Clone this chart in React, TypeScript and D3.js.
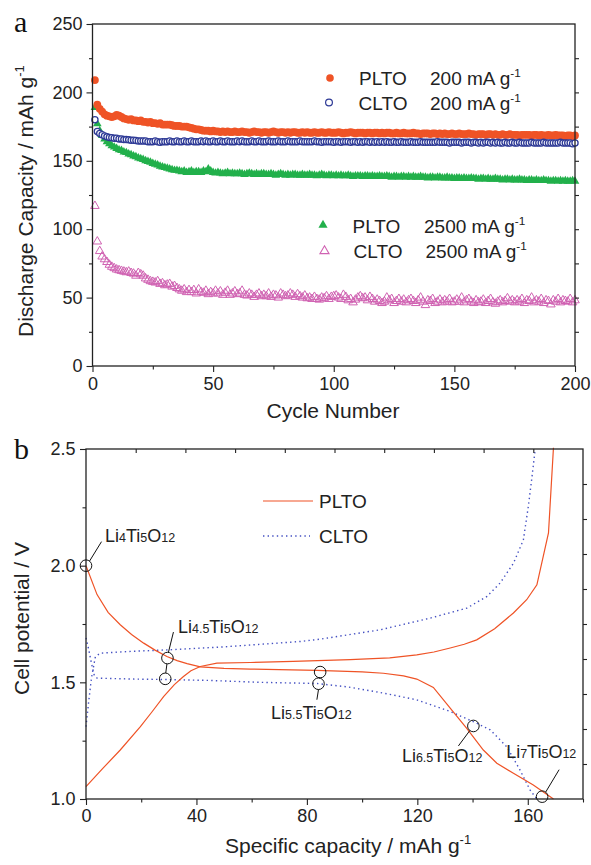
import React, { useEffect, useRef } from "react";
import * as d3 from "d3";

// ---- panel a: discharge capacity vs cycle number ----
const cycleNumbers = d3.range(1, 201);

const plto200 = [
  209, 191, 188, 186, 184, 183, 182.5, 182, 182.5, 183.5,
  183, 182, 181, 180.5, 180, 180.5, 179.5, 179.5, 179, 179.5,
  178.5, 178.5, 178, 178.5, 177.5, 177.5, 177, 177.5, 176.5, 176.5,
  176.5, 176.5, 176, 175.5, 175.5, 175.5, 175, 175, 175, 174.5,
  174, 173.5, 173, 173, 172.5, 172, 172, 172, 171.5, 172,
  171.5, 171.5, 171, 171.5, 171, 171.5, 171, 171, 171.5, 171,
  171, 171.5, 171, 171, 170.5, 171, 171.5, 171, 171, 170.5,
  171, 171, 170.5, 171, 171.5, 171, 170.5, 171, 171, 170.5,
  171, 170.5, 171, 171, 170.5, 170.5, 171, 170.5, 171, 170.5,
  170.5, 171, 170.5, 170.5, 171, 170.5, 170.5, 171, 170.5, 170.5,
  170.5, 171, 170.5, 170, 170.5, 170.5, 171, 170.5, 170, 170.5,
  170.5, 170.5, 170, 170.5, 170.5, 170, 170.5, 170.5, 170, 170.5,
  170, 170.5, 170.5, 170, 170, 170.5, 170, 170, 170.5, 170,
  170, 170, 170.5, 170, 170, 169.5, 170, 170, 170, 169.5,
  170, 170, 169.5, 170, 169.5, 170, 169.5, 169.5, 170, 169.5,
  169.5, 170, 169.5, 169.5, 169.5, 170, 169.5, 169.5, 169, 169.5,
  169.5, 169.5, 169, 169.5, 169.5, 169, 169.5, 169, 169, 169.5,
  169, 169, 169.5, 169, 169, 169, 168.5, 169, 169, 169,
  169, 168.5, 169, 169, 168.5, 169, 168.5, 168.5, 169, 168.5,
  168.5, 169, 168.5, 168.5, 168.5, 168, 168.5, 168.5, 168, 168.5,
];

const clto200 = [
  180, 171.5, 170, 169, 168.2, 167.5, 167, 166.8, 166.5, 166.5,
  166, 166, 165.5, 165.5, 165.3, 165, 165, 164.8, 164.5, 164.5,
  164.5, 164.5, 164, 164, 164, 164.5, 164, 163.5, 164, 164,
  164, 164.5, 164, 164, 164.5, 164, 164, 164.5, 164, 164,
  164.5, 164, 164, 164, 164.5, 164, 164.5, 164, 164, 164.5,
  164, 164, 164.5, 164, 164, 164.5, 164, 164, 164, 164.5,
  164, 164.5, 164, 164, 164, 164.5, 164, 164, 164.5, 164,
  164, 164, 164.5, 164, 164, 164, 164.5, 164, 164, 164,
  164.5, 164, 164, 164, 164, 164.5, 164, 164, 164, 164,
  164, 164.5, 164, 164, 163.5, 164, 164, 164, 164, 163.5,
  164, 164, 163.5, 164, 164, 164, 163.5, 164, 164, 163.5,
  164, 163.5, 164, 164, 163.5, 164, 163.5, 164, 163.5, 164,
  163.5, 164, 163.5, 163.5, 164, 163.5, 163.5, 164, 163.5, 163.5,
  163.5, 164, 163.5, 163.5, 163.5, 164, 163.5, 163.5, 163.5, 163.5,
  163.5, 163.5, 164, 163.5, 163.5, 163.5, 163.5, 163, 163.5, 163.5,
  163.5, 163.5, 163, 163.5, 163.5, 163.5, 163, 163.5, 163.5, 163,
  163.5, 163, 163.5, 163.5, 163, 163.5, 163, 163.5, 163, 163,
  163.5, 163, 163, 163.5, 163, 163, 163.5, 163, 163, 163,
  163, 163.5, 163, 163, 163, 163, 163.5, 163, 163, 163,
  163, 163, 163, 163.5, 163, 163, 163, 163, 162.5, 163,
];

const plto2500 = [
  189, 177, 172, 168.5, 166, 164, 162.5, 161, 160, 159,
  158, 157.5, 156.5, 156, 155, 154.5, 153.5, 153, 152, 151.5,
  151, 150, 149.5, 149, 148, 147.5, 147, 146, 145.5, 145,
  144.5, 144, 143.5, 143, 143, 142.5, 142, 142.5, 141.5, 142,
  142.5, 141.5, 142, 142, 141.5, 142.5, 142, 144, 142.5, 141.5,
  141, 141.5, 141, 140.5, 141, 141.5, 140.5, 141, 140.5, 140.5,
  141, 140.5, 140, 140.5, 141, 140.5, 140, 140.5, 140, 140.5,
  140.5, 140, 140, 140.5, 140, 139.5, 140, 140.5, 140, 139.5,
  140, 139.5, 140, 140, 139.5, 139.5, 140, 139.5, 139.5, 140,
  139.5, 139.5, 139, 139.5, 140, 139.5, 139, 139.5, 139.5, 139,
  139.5, 139, 139.5, 139, 139, 139.5, 139, 138.5, 139, 139,
  139, 138.5, 139, 139, 138.5, 139, 138.5, 138.5, 139, 138.5,
  138.5, 139, 138.5, 138, 138.5, 138.5, 138, 138.5, 138.5, 138,
  138.5, 138, 138.5, 138, 138, 138.5, 138, 138, 137.5, 138,
  138, 137.5, 138, 138, 137.5, 137.5, 138, 137.5, 137.5, 137,
  137.5, 137.5, 137, 137.5, 137, 137, 137.5, 137, 137, 136.5,
  137, 137, 136.5, 137, 136.5, 136.5, 137, 136.5, 136.5, 136,
  136.5, 136.5, 136, 136.5, 136, 136, 136.5, 136, 136, 135.5,
  136, 136, 135.5, 136, 135.5, 135.5, 136, 135.5, 135.5, 135,
  135.5, 135.5, 135, 135.5, 135, 135.5, 135, 135, 135.5, 135,
];

const clto2500 = [
  117, 91, 84, 80, 78, 76, 74, 72.5, 71.5, 70.5,
  70, 69.5, 69, 68.5, 69, 68, 67.5, 66, 68, 67,
  66, 64, 63, 62, 61.5, 61, 62, 60, 60.5, 59,
  59.5, 60, 58, 58.5, 57, 56, 55, 56, 54, 55.5,
  54, 55.5, 53, 56, 54, 53.5, 55, 52.5, 54, 53,
  55, 53, 54.5, 52, 53.5, 55, 52, 53, 54.5, 52.5,
  53, 55, 52, 51.5, 53, 52, 50.5, 52, 53, 51,
  52, 51, 53, 50.5, 52, 51.5, 50, 53, 52, 51,
  51.5, 53, 52, 50.5, 52.5, 51, 50, 51.5, 49.5, 50,
  49, 50.5, 49, 48.5, 50, 49.5, 51, 49, 50.5, 51,
  51.5, 50, 49, 52, 50.5, 48, 49, 46.5, 48.5, 50,
  51, 49.5, 50, 48, 50.5, 49, 47, 48.5, 47.5, 46,
  47, 50, 48, 49, 46, 47.5, 49, 47, 48.5, 46.5,
  48, 49, 47.5, 46, 48, 50, 47, 44.5, 48, 47.5,
  49, 46, 47, 48.5, 46.5, 48, 47, 49, 46.5, 47,
  48.5, 47, 50, 46.5, 48, 49, 47, 46, 48, 46.5,
  47, 48.5, 46, 47.5, 49, 46.5, 45.5, 47, 48, 46.5,
  47.5, 49.5, 47, 48, 46.5, 48, 47, 49, 46, 48,
  47.5, 50, 46.5, 48, 47, 49, 46, 48, 47.5, 45,
  48, 47, 49, 46.5, 48, 47.5, 47, 49, 46.5, 48,
];

const capTicks = [0, 50, 100, 150, 200, 250];
const cycleTicks = [0, 50, 100, 150, 200];

// ---- panel b: voltage profiles, [capacity, voltage] ----
const pltoDischarge: [number, number][] = [
  [0, 2.0], [4, 1.876], [8, 1.8], [12.4, 1.747], [16.5, 1.705], [20.9, 1.668],
  [25, 1.638], [29.3, 1.611], [33, 1.593], [36.6, 1.58], [41.4, 1.566], [50, 1.56],
  [59.5, 1.557], [83.6, 1.551], [100, 1.545], [107.7, 1.539], [115, 1.528],
  [119.8, 1.514], [125.8, 1.478], [131.9, 1.389], [137.9, 1.303], [143.9, 1.21],
  [148.8, 1.153], [154.8, 1.11], [162, 1.06], [169.3, 1.0],
];
const pltoCharge: [number, number][] = [
  [0, 1.053], [6, 1.13], [12.4, 1.21], [19.7, 1.31], [24, 1.375], [28.1, 1.439],
  [32, 1.49], [35.3, 1.525], [38, 1.55], [41.4, 1.568], [47.4, 1.582], [59.5, 1.585],
  [75, 1.59], [95.7, 1.597], [110, 1.605], [119.8, 1.618], [126, 1.63], [131.9, 1.647],
  [137, 1.663], [141.5, 1.682], [148, 1.73], [154.8, 1.797], [159.6, 1.854],
  [163.3, 1.918], [167.5, 2.14], [169.3, 2.505],
];
const cltoDischarge: [number, number][] = [
  [0, 1.69], [1, 1.64], [2, 1.58], [3, 1.53], [4, 1.518], [17.2, 1.514], [29, 1.512],
  [45, 1.508], [63, 1.5], [83.6, 1.495], [95, 1.48], [107.7, 1.454], [119.8, 1.425],
  [131.9, 1.375], [141.5, 1.325], [146.4, 1.296], [152.4, 1.224], [157.2, 1.124],
  [160.8, 1.039], [163.3, 1.0],
];
const cltoCharge: [number, number][] = [
  [0, 1.31], [1, 1.42], [2, 1.52], [3.4, 1.61], [5.2, 1.625], [15, 1.632], [29.3, 1.639],
  [50, 1.652], [77.6, 1.675], [84.8, 1.685], [106.5, 1.725], [124.6, 1.775],
  [137.9, 1.818], [145.2, 1.868], [150, 1.926], [154.8, 2.01], [158.4, 2.11],
  [160.2, 2.254], [161.7, 2.398], [162.7, 2.5],
];

const voltTicks = [1.0, 1.5, 2.0, 2.5];
const specCapTicks = [0, 40, 80, 120, 160];

// composition markers: [capacity, voltage]
const markerPoints: [number, number][] = [
  [0, 2.0], [29.5, 1.604], [28.7, 1.515], [84.8, 1.544], [84.2, 1.494], [140.3, 1.313], [165.2, 1.01],
];
// label parts: [main, sub, main, sub, main, sub]
const phaseLabels = [
  ["Li", "4", "Ti", "5", "O", "12"],
  ["Li", "4.5", "Ti", "5", "O", "12"],
  ["Li", "5.5", "Ti", "5", "O", "12"],
  ["Li", "6.5", "Ti", "5", "O", "12"],
  ["Li", "7", "Ti", "5", "O", "12"],
];

const ORANGE = "#ef5326";
const BLUE = "#2e3a96";
const DOT_BLUE = "#4450c2";
const GREEN = "#22b04b";
const PINK = "#d062b2";
const INK = "#222";
const FONT = "'Liberation Sans', Arial, Helvetica, sans-serif";

type Sel = d3.Selection<SVGSVGElement, unknown, null, undefined>;

function supText(g: any, x: number, y: number, main: string, size: number, anchor = "start") {
  const t = g.append("text").attr("x", x).attr("y", y).attr("font-size", size)
    .attr("text-anchor", anchor).attr("fill", INK);
  t.append("tspan").text(main);
  t.append("tspan").attr("font-size", size * 0.62).attr("dy", -size * 0.42).text("-1");
  return t;
}

function drawTop(svg: Sel) {
  const x = d3.scaleLinear().domain([0, 200]).range([92.5, 575]);
  const y = d3.scaleLinear().domain([0, 250]).range([366, 24]);
  const g = svg.append("g").attr("font-family", FONT);

  // markers
  const tri = d3.symbol().type(d3.symbolTriangle);
  g.append("g").selectAll("path").data(plto2500).join("path")
    .attr("d", tri.size(32)())
    .attr("transform", (d, i) => `translate(${x(cycleNumbers[i])},${y(d)})`)
    .attr("fill", GREEN);
  g.append("g").selectAll("circle").data(plto200).join("circle")
    .attr("cx", (d, i) => x(cycleNumbers[i])).attr("cy", (d) => y(d)).attr("r", 3.9)
    .attr("fill", ORANGE);
  g.append("g").selectAll("circle").data(clto200).join("circle")
    .attr("cx", (d, i) => x(cycleNumbers[i])).attr("cy", (d) => y(d)).attr("r", 3.1)
    .attr("fill", "#fff").attr("stroke", BLUE).attr("stroke-width", 1.3);
  g.append("g").selectAll("path").data(clto2500).join("path")
    .attr("d", tri.size(32)())
    .attr("transform", (d, i) => `translate(${x(cycleNumbers[i])},${y(d)})`)
    .attr("fill", "none").attr("stroke", PINK).attr("stroke-width", 1);

  // frame
  g.append("rect").attr("x", x(0)).attr("y", y(250)).attr("width", x(200) - x(0))
    .attr("height", y(0) - y(250)).attr("fill", "none").attr("stroke", INK).attr("stroke-width", 1.3);

  // axes
  const ax = g.append("g").attr("transform", `translate(0,${y(0)})`)
    .call(d3.axisBottom(x).tickValues(cycleTicks).tickSize(6).tickPadding(5).tickFormat(d3.format("d")));
  ax.append("g").call(d3.axisBottom(x).tickValues([25, 75, 125, 175]).tickSize(3.5).tickFormat(() => ""))
    .select(".domain").remove();
  const ay = g.append("g").attr("transform", `translate(${x(0)},0)`)
    .call(d3.axisLeft(y).tickValues(capTicks).tickSize(6).tickPadding(4).tickFormat(d3.format("d")));
  ay.append("g").call(d3.axisLeft(y).tickValues([25, 75, 125, 175, 225]).tickSize(3.5).tickFormat(() => ""))
    .select(".domain").remove();
  g.append("g").attr("transform", `translate(${x(200)},0)`)
    .call(d3.axisLeft(y).tickValues(d3.range(25, 250, 25)).tickSize(-4).tickFormat(() => ""))
    .select(".domain").remove();
  g.selectAll(".domain").remove();
  g.selectAll(".tick line").attr("stroke", INK).attr("stroke-width", 1.1);
  g.selectAll(".tick text").attr("font-size", 18).attr("fill", INK).attr("font-family", FONT);

  // titles
  g.append("text").attr("x", 333).attr("y", 418).attr("text-anchor", "middle")
    .attr("font-size", 21).attr("fill", INK).text("Cycle Number");
  supText(g, 0, 0, "Discharge Capacity / mAh g", 21).attr("transform", "translate(33,337) rotate(-90)");
  svg.append("text").attr("x", 14).attr("y", 32).attr("font-family", "'Liberation Serif', 'Times New Roman', serif")
    .attr("font-size", 30).attr("fill", "#111").text("a");

  // legend
  const lg = g.append("g").attr("font-size", 19);
  lg.append("circle").attr("cx", 330).attr("cy", 78).attr("r", 3.8).attr("fill", ORANGE);
  lg.append("text").attr("x", 359).attr("y", 85).attr("fill", INK).text("PLTO");
  supText(lg, 430, 85, "200 mA g", 19);
  lg.append("circle").attr("cx", 329).attr("cy", 102.5).attr("r", 3.4).attr("fill", "#fff")
    .attr("stroke", BLUE).attr("stroke-width", 1.2);
  lg.append("text").attr("x", 358.5).attr("y", 110).attr("fill", INK).text("CLTO");
  supText(lg, 430, 110, "200 mA g", 19);
  lg.append("path").attr("d", tri.size(36)()).attr("transform", "translate(323,225)").attr("fill", GREEN);
  lg.append("text").attr("x", 352.5).attr("y", 233).attr("fill", INK).text("PLTO");
  supText(lg, 424, 233, "2500 mA g", 19);
  lg.append("path").attr("d", tri.size(36)()).attr("transform", "translate(324.5,251)")
    .attr("fill", "none").attr("stroke", PINK).attr("stroke-width", 1.1);
  lg.append("text").attr("x", 353.5).attr("y", 258).attr("fill", INK).text("CLTO");
  supText(lg, 425.5, 258, "2500 mA g", 19);
}

function drawBottom(svg: Sel) {
  const x = d3.scaleLinear().domain([0, 180]).range([86, 583]);
  const y = d3.scaleLinear().domain([1, 2.5]).range([799, 449]);
  const g = svg.append("g").attr("font-family", FONT);
  const line = d3.line<[number, number]>().x((d) => x(d[0])).y((d) => y(d[1]));

  const curves = g.append("g").attr("fill", "none");
  [cltoDischarge, cltoCharge].forEach((c) =>
    curves.append("path").attr("d", line(c)).attr("stroke", DOT_BLUE).attr("stroke-width", 1.4)
      .attr("stroke-dasharray", "1.4,3.2"));
  [pltoDischarge, pltoCharge].forEach((c) =>
    curves.append("path").attr("d", line(c)).attr("stroke", ORANGE).attr("stroke-width", 1.2));

  // frame
  g.append("rect").attr("x", x(0)).attr("y", y(2.5)).attr("width", x(180) - x(0))
    .attr("height", y(1) - y(2.5)).attr("fill", "none").attr("stroke", INK).attr("stroke-width", 1.3);

  const ax = g.append("g").attr("transform", `translate(0,${y(1)})`)
    .call(d3.axisBottom(x).tickValues(specCapTicks).tickSize(6).tickPadding(4).tickFormat(d3.format("d")));
  ax.append("g").call(d3.axisBottom(x).tickValues([20, 60, 100, 140, 180]).tickSize(3.5).tickFormat(() => ""));
  g.append("g").attr("transform", `translate(0,${y(2.5)})`)
    .call(d3.axisBottom(x).tickValues(d3.range(18, 180, 18)).tickSize(4).tickFormat(() => ""));
  const ay = g.append("g").attr("transform", `translate(${x(0)},0)`)
    .call(d3.axisLeft(y).tickValues(voltTicks).tickSize(6).tickPadding(4.5).tickFormat(d3.format(".1f")));
  ay.append("g").call(d3.axisLeft(y).tickValues([1.25, 1.75, 2.25]).tickSize(3.5).tickFormat(() => ""));
  g.append("g").attr("transform", `translate(${x(180)},0)`)
    .call(d3.axisLeft(y).tickValues(d3.range(1.15, 2.45, 0.15)).tickSize(-4).tickFormat(() => ""));
  g.selectAll(".domain").remove();
  g.selectAll(".tick line").attr("stroke", INK).attr("stroke-width", 1.1);
  g.selectAll(".tick text").attr("font-size", 18).attr("fill", INK).attr("font-family", FONT);

  // titles
  supText(g, 225, 853, "Specific capacity / mAh g", 21);
  g.append("text").attr("transform", "translate(29,695) rotate(-90)").attr("font-size", 21)
    .attr("fill", INK).text("Cell potential / V");
  svg.append("text").attr("x", 14).attr("y", 459).attr("font-family", "'Liberation Serif', 'Times New Roman', serif")
    .attr("font-size", 30).attr("fill", "#111").text("b");

  // legend
  g.append("line").attr("x1", 263).attr("x2", 313).attr("y1", 501).attr("y2", 501)
    .attr("stroke", ORANGE).attr("stroke-width", 1.2);
  g.append("text").attr("x", 319).attr("y", 508).attr("font-size", 19).attr("fill", INK).text("PLTO");
  g.append("line").attr("x1", 263).attr("x2", 310).attr("y1", 536).attr("y2", 536)
    .attr("stroke", DOT_BLUE).attr("stroke-width", 1.4).attr("stroke-dasharray", "1.4,3.2");
  g.append("text").attr("x", 319).attr("y", 543).attr("font-size", 19).attr("fill", INK).text("CLTO");

  // composition markers
  const pts = markerPoints.map(([c, v]) => [x(c), y(v)]);
  const ann = g.append("g").attr("stroke", "#111").attr("stroke-width", 1);
  ann.selectAll("circle").data(pts).join("circle")
    .attr("cx", (d) => d[0]).attr("cy", (d) => d[1]).attr("r", 5.8).attr("fill", "none");
  const seg = (a: number[], b: number[]) =>
    ann.append("line").attr("x1", a[0]).attr("y1", a[1]).attr("x2", b[0]).attr("y2", b[1]);
  const [p0, p1, p2, p3, p4, p5, p6] = pts;
  seg([p0[0] + 3.5, p0[1] - 4.5], [p0[0] + 15.5, p0[1] - 24]);
  seg([p2[0] + 0.5, p2[1] - 5.8], [p1[0] - 0.5, p1[1] + 5.8]);
  seg([p1[0] + 1, p1[1] - 5.8], [p1[0] + 6, p1[1] - 26]);
  seg([p3[0] - 0.5, p3[1] + 5.8], [p4[0] + 0.5, p4[1] - 5.8]);
  seg([p4[0], p4[1] + 5.8], [p4[0] - 1.6, p4[1] + 16]);
  seg([p5[0] - 3.5, p5[1] + 4.5], [p5[0] - 15, p5[1] + 20]);
  seg([p6[0] + 3.5, p6[1] - 4.5], [p6[0] + 17, p6[1] - 27]);

  const labelPos = [
    [p0[0] + 19, p0[1] - 23.5],
    [p1[0] + 10.5, p1[1] - 25],
    [p4[0] - 47.5, p4[1] + 35],
    [p5[0] - 71.5, p5[1] + 36.5],
    [p6[0] - 36, p6[1] - 38.5],
  ];
  phaseLabels.forEach((parts, i) => {
    const t = g.append("text").attr("x", labelPos[i][0]).attr("y", labelPos[i][1]).attr("fill", INK);
    parts.forEach((p, j) => t.append("tspan").attr("font-size", j % 2 === 0 ? 18 : 12.5).text(p));
  });
}

export default function App() {
  const ref = useRef<SVGSVGElement>(null);
  useEffect(() => {
    const svg = d3.select(ref.current as SVGSVGElement);
    svg.selectAll("*").remove();
    drawTop(svg as Sel);
    drawBottom(svg as Sel);
  }, []);
  return (
    <svg ref={ref} width={591} height={865}
      style={{ position: "absolute", left: 0, top: 0, background: "#fff", display: "block" }} />
  );
}
